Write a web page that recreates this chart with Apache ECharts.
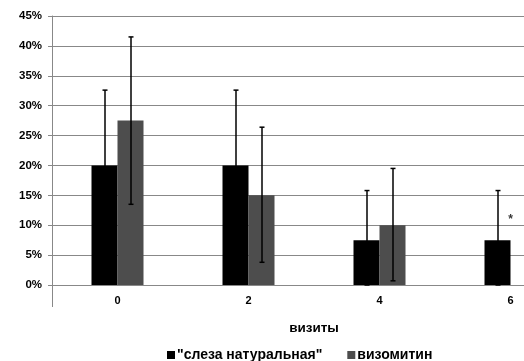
<!DOCTYPE html>
<html><head><meta charset="utf-8">
<script src="https://cdn.jsdelivr.net/npm/echarts@6/dist/echarts.min.js"></script>
<style>html,body{margin:0;padding:0;background:#fff}#c{width:524px;height:361px}</style>
</head><body><div id="c"></div>
<script>
const categories = ['0', '2', '4', '6'];
const seriesNames = ['"слеза натуральная"', 'визомитин'];
const tearValues = [20, 20, 7.5, 7.5];
const vizValues = [27.5, 15, 10, null];
const tearErrLow = [7.4, 7.4, 0, 0];
const tearErrHigh = [32.6, 32.6, 15.8, 15.8];
const vizErrLow = [13.5, 3.8, 0.7, null];
const vizErrHigh = [41.5, 26.4, 19.5, null];
const starPoint = [['6', 10.9]];
const yTicks = [0, 5, 10, 15, 20, 25, 30, 35, 40, 45];

const chart = echarts.init(document.getElementById('c'));
const font = 'Arial, "Liberation Sans", sans-serif';
const barW = 26;

function errData(lo, hi) {
  return categories.map((c, i) => lo[i] == null ? [c, null, null] : [c, lo[i], hi[i]]);
}
function errSeries(lo, hi, offset) {
  return {
    type: 'custom',
    data: errData(lo, hi),
    z: 5,
    silent: true,
    encode: { x: 0, y: [1, 2] },
    renderItem: function (params, api) {
      if (api.value(1) == null || isNaN(api.value(1))) return;
      const cat = api.value(0);
      const p1 = api.coord([cat, api.value(1)]);
      const p2 = api.coord([cat, api.value(2)]);
      const x = Math.round(p1[0] + offset);
      const st = { stroke: '#000', lineWidth: 1.5 };
      return {
        type: 'group',
        children: [
          { type: 'line', shape: { x1: x, y1: p1[1], x2: x, y2: p2[1] }, style: st },
          { type: 'line', shape: { x1: x - 2.5, y1: p1[1], x2: x + 2.5, y2: p1[1] }, style: st },
          { type: 'line', shape: { x1: x - 2.5, y1: p2[1], x2: x + 2.5, y2: p2[1] }, style: st }
        ]
      };
    }
  };
}

chart.setOption({
  animation: false,
  grid: { left: 52, right: -52, top: 16, height: 269, outerBoundsMode: 'none', containLabel: false },
  legend: {
    left: 167, top: 348, padding: 0,
    icon: 'rect', itemWidth: 8, itemHeight: 8, itemGap: 25,
    data: seriesNames,
    textStyle: { fontFamily: font, fontWeight: 'bold', fontSize: 14, color: '#000', padding: [0, 0, 0, -3] }
  },
  xAxis: {
    type: 'category',
    data: categories,
    name: 'визиты',
    nameLocation: 'middle',
    nameGap: 36,
    nameTextStyle: { fontFamily: font, fontWeight: 'bold', fontSize: 13.5, color: '#000' },
    axisLine: { lineStyle: { color: '#888', width: 1 } },
    axisTick: { show: false },
    axisLabel: { fontFamily: font, fontWeight: 'bold', fontSize: 11, color: '#000', margin: 10 }
  },
  yAxis: {
    type: 'value',
    min: 0, max: 45, interval: 5,
    axisLine: { show: true, lineStyle: { color: '#888', width: 1 } },
    axisTick: { show: true, length: 4, lineStyle: { color: '#888' } },
    splitLine: { lineStyle: { color: '#888', width: 1 } },
    axisLabel: { fontFamily: font, fontWeight: 'bold', fontSize: 11.5, color: '#000', margin: 10,
      formatter: v => yTicks.includes(v) ? v + '%' : '' }
  },
  series: [
    { name: seriesNames[0], type: 'bar', data: tearValues, barWidth: barW, barGap: '0%',
      itemStyle: { color: '#000' } },
    { name: seriesNames[1], type: 'bar', data: vizValues, barWidth: barW, barGap: '0%',
      itemStyle: { color: '#4d4d4d' } },
    errSeries(tearErrLow, tearErrHigh, -barW / 2),
    errSeries(vizErrLow, vizErrHigh, barW / 2),
    { type: 'scatter', data: starPoint, symbolSize: 0, z: 6,
      label: { show: true, position: 'inside', formatter: '*', color: '#000',
        fontFamily: font, fontWeight: 'bold', fontSize: 12 } }
  ]
});

const p0 = chart.convertToPixel({ gridIndex: 0 }, ['0', 0]);
const axisX = 52;
chart.setOption({
  graphic: [{ type: 'line', shape: { x1: axisX + 0.5, y1: p0[1], x2: axisX + 0.5, y2: p0[1] + 22 },
    style: { stroke: '#888', lineWidth: 1 }, z: 10 }]
});
</script></body></html>
